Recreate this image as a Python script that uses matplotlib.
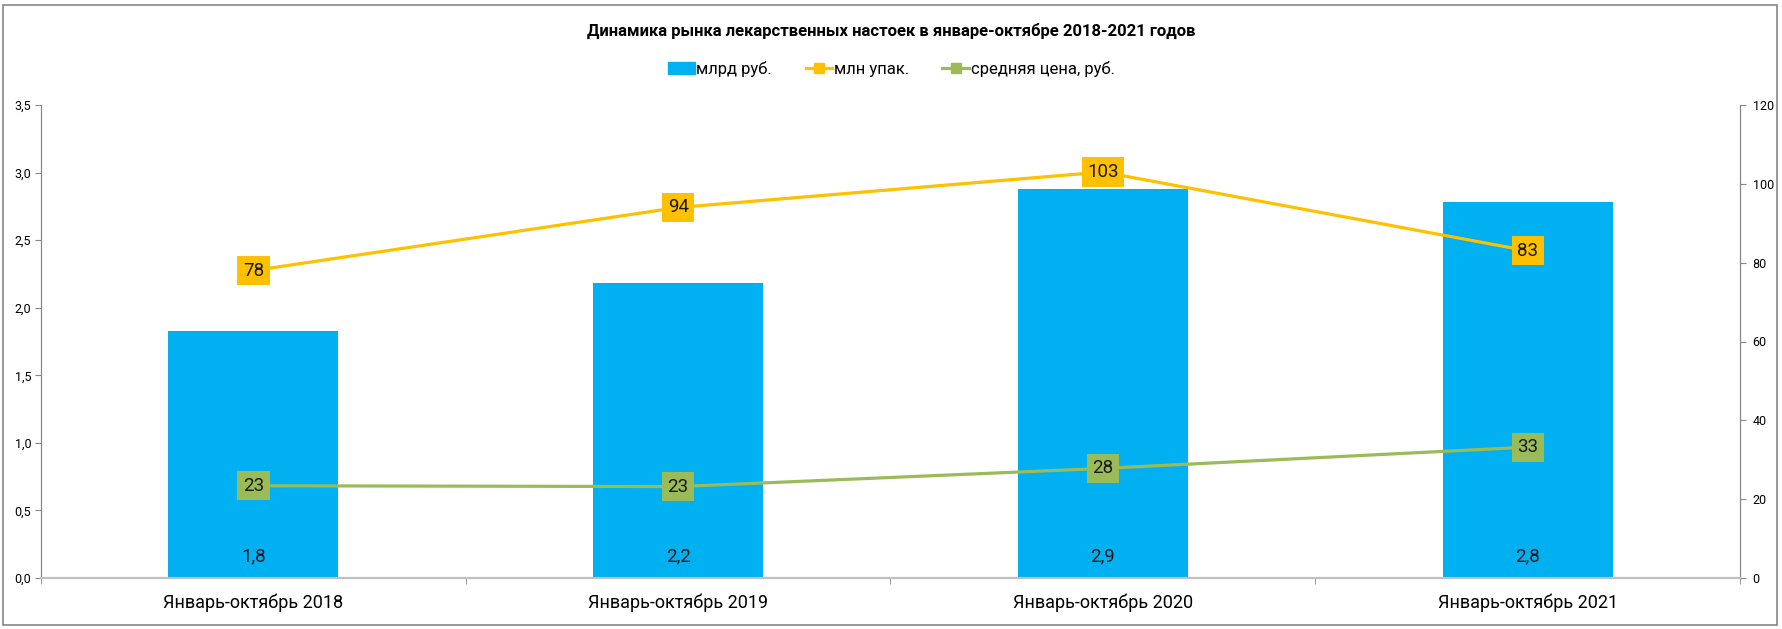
import numpy as np
import matplotlib.pyplot as plt
from matplotlib.patches import Rectangle, Patch
from matplotlib.lines import Line2D

plt.rcParams['font.family'] = ['Roboto', 'DejaVu Sans']

# data
categories = ['Январь-октябрь 2018', 'Январь-октябрь 2019',
              'Январь-октябрь 2020', 'Январь-октябрь 2021']
bln_rub = [1.83, 2.18, 2.88, 2.78]
mln_pack = [78, 94, 103, 83]
avg_price = [23.4, 23.2, 27.8, 33.2]

blue = '#00B0F0'
yellow = '#FFC000'
green = '#9BBB59'
axis_grey = '#868686'

fig = plt.figure(figsize=(17.83, 6.29), dpi=100)
ax = fig.add_axes([41 / 1783, 51 / 629, 1699 / 1783, 473 / 629])
ax2 = ax.twinx()

x = np.arange(len(categories))
ax.bar(x, bln_rub, width=0.4, color=blue, zorder=2)
ax.set_xlim(-0.5, len(categories) - 0.5)
ax.set_ylim(0, 3.5)
ax.set_yticks(np.arange(0, 3.51, 0.5))
ax.set_yticklabels([f'{v:.1f}'.replace('.', ',') for v in np.arange(0, 3.51, 0.5)])
ax.set_xticks(x)
ax.set_xticklabels(categories, fontsize=13)
ax.set_xticks(np.arange(-0.5, len(categories), 1), minor=True)
ax.tick_params(axis='x', which='major', length=0, pad=11)
ax.tick_params(axis='x', which='minor', length=4, color=axis_grey)
ax.tick_params(axis='y', labelsize=9, length=4, color=axis_grey, direction='out', pad=3)

for xi, v in zip(x, bln_rub):
    ax.text(xi, 0.16, f'{v:.1f}'.replace('.', ','), ha='center', va='center',
            fontsize=13.5, color='#1a1a1a', zorder=5)

ax2.plot(x, mln_pack, color=yellow, lw=2.3, zorder=3)
ax2.plot(x, avg_price, color=green, lw=2.3, zorder=3)
ax2.set_ylim(0, 120)
ax2.set_yticks(range(0, 121, 20))
ax2.tick_params(axis='y', labelsize=9, length=4, color=axis_grey, direction='out', pad=5)

for series, col in [(mln_pack, yellow), (avg_price, green)]:
    for xi, v in zip(x, series):
        ax2.text(xi, v, f'{v:.0f}', ha='center', va='center', fontsize=13.5,
                 color='#1a1a1a', zorder=6,
                 bbox=dict(boxstyle='square,pad=0.3', fc=col, ec='none'))

for a in (ax, ax2):
    a.spines['top'].set_visible(False)
    a.spines['left'].set_color(axis_grey)
    a.spines['right'].set_color(axis_grey)
    a.spines['bottom'].set_color('#BFBFBF')
    a.spines['bottom'].set_linewidth(1.5)
    a.patch.set_visible(False)

fig.text(0.5, 1 - 31 / 629, 'Динамика рынка лекарственных настоек в январе-октябре 2018-2021 годов',
         ha='center', va='center', fontsize=12, fontweight='bold')

handles = [Patch(color=blue),
           Line2D([], [], color=yellow, lw=2.3, marker='s', markersize=7),
           Line2D([], [], color=green, lw=2.3, marker='s', markersize=7)]
fig.legend(handles, ['млрд руб.', 'млн упак.', 'средняя цена, руб.'],
           loc='center', bbox_to_anchor=(0.5, 1 - 69 / 629), ncol=3, frameon=False,
           fontsize=12, handlelength=1.6, handletextpad=0.1, columnspacing=2.0)

fig.patches.append(Rectangle((3 / 1783, 4 / 629), 1774 / 1783, 620 / 629,
                             transform=fig.transFigure, fill=False,
                             ec=axis_grey, lw=1.2))

fig.savefig('out.png', dpi=100)
